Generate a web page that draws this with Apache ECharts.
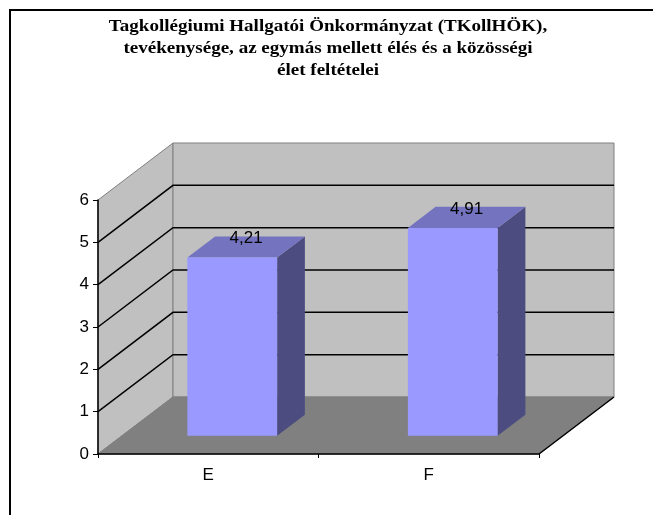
<!DOCTYPE html>
<html>
<head>
<meta charset="utf-8">
<script src="https://cdn.jsdelivr.net/npm/echarts@6/dist/echarts.min.js"></script>
<style>
  html, body { margin: 0; padding: 0; background: #fff; }
  #chart { width: 653px; height: 515px; }
</style>
</head>
<body>
<div id="chart"></div>
<script>
// Chart data
const titleLines = [
  'Tagkollégiumi Hallgatói Önkormányzat (TKollHÖK),',
  'tevékenysége, az egymás mellett élés és a közösségi',
  'élet feltételei'
];
const categories = ['E', 'F'];
const values = [4.21, 4.91];
const yTicks = [0, 1, 2, 3, 4, 5, 6];

// 3D look: pixel offset from the front plane to the back wall
const DEPTH = [75, -57];
// Bars occupy this slice of the depth
const BAR_Z0 = 0.32, BAR_Z1 = 0.69;
const BAR_WIDTH_RATIO = 0.407;

const COLORS = {
  wall: '#c0c0c0',
  wallEdge: '#808080',
  floor: '#808080',
  front: '#9999ff',
  top: '#7373bf',
  side: '#4c4c80'
};

const SANS = '"Liberation Sans", Arial, sans-serif';
const fmt = v => v.toFixed(2).replace('.', ',');

const chart = echarts.init(document.getElementById('chart'), null, { renderer: 'canvas' });

function renderWalls(params, api) {
  const cs = params.coordSys;
  const x0 = cs.x, x1 = cs.x + cs.width;
  const yb = cs.y + cs.height, yt = cs.y;
  const dx = DEPTH[0], dy = DEPTH[1];
  const children = [];
  // left wall
  children.push({
    type: 'polygon',
    shape: { points: [[x0, yb], [x0 + dx, yb + dy], [x0 + dx, yt + dy], [x0, yt]] },
    style: { fill: COLORS.wall, stroke: COLORS.wallEdge, lineWidth: 1 }
  });
  // back wall
  children.push({
    type: 'polygon',
    shape: { points: [[x0 + dx, yt + dy], [x1 + dx, yt + dy], [x1 + dx, yb + dy], [x0 + dx, yb + dy]] },
    style: { fill: COLORS.wall, stroke: COLORS.wallEdge, lineWidth: 1 }
  });
  // floor
  children.push({
    type: 'polygon',
    shape: { points: [[x0, yb], [x1, yb], [x1 + dx, yb + dy], [x0 + dx, yb + dy]] },
    style: { fill: COLORS.floor, stroke: COLORS.wallEdge, lineWidth: 1 }
  });
  // front-right edge of the floor
  children.push({
    type: 'line',
    shape: { x1: x1, y1: yb, x2: x1 + dx, y2: yb + dy },
    style: { stroke: '#000', lineWidth: 1.5 }
  });
  // gridlines across the left and back walls
  const vmax = yTicks[yTicks.length - 1];
  yTicks.forEach(v => {
    if (v <= 0 || v >= vmax) return;
    const y = api.coord([0, v])[1];
    children.push({
      type: 'polyline',
      shape: { points: [[x0, y], [x0 + dx, y + dy], [x1 + dx, y + dy]] },
      style: { stroke: '#000', lineWidth: 1.5, fill: null }
    });
  });
  return { type: 'group', children: children };
}

function renderBar(params, api) {
  const idx = api.value(0);
  const val = api.value(1);
  const base = api.coord([idx, 0]);
  const top = api.coord([idx, val]);
  const band = api.size([1, 0])[0];
  const w = band * BAR_WIDTH_RATIO;
  const ox = DEPTH[0] * BAR_Z0, oy = DEPTH[1] * BAR_Z0;
  const ddx = DEPTH[0] * (BAR_Z1 - BAR_Z0), ddy = DEPTH[1] * (BAR_Z1 - BAR_Z0);
  const xl = base[0] - w / 2 + ox, xr = xl + w;
  const yb = base[1] + oy, ytop = top[1] + oy;
  return {
    type: 'group',
    children: [
      {
        type: 'polygon',
        shape: { points: [[xr, yb], [xr + ddx, yb + ddy], [xr + ddx, ytop + ddy], [xr, ytop]] },
        style: { fill: COLORS.side }
      },
      {
        type: 'polygon',
        shape: { points: [[xl, ytop], [xr, ytop], [xr + ddx, ytop + ddy], [xl + ddx, ytop + ddy]] },
        style: { fill: COLORS.top }
      },
      {
        type: 'rect',
        shape: { x: xl, y: ytop, width: w, height: yb - ytop },
        style: { fill: COLORS.front }
      },
      {
        type: 'text',
        x: (xl + xr) / 2 + ddx / 2,
        y: ytop + ddy + 2,
        style: {
          text: fmt(val),
          fill: '#000',
          font: '17px ' + SANS,
          align: 'center',
          verticalAlign: 'middle'
        }
      }
    ]
  };
}

const option = {
  animation: false,
  backgroundColor: '#fff',
  graphic: [
    {
      type: 'rect',
      shape: { x: 10, y: 10, width: 700, height: 600 },
      style: { fill: null, stroke: '#000', lineWidth: 2 },
      silent: true
    },
    {
      // chart title, widened to the Excel-style spacing
      type: 'text',
      x: 328,
      y: 49,
      scaleX: 1.12,
      style: {
        text: titleLines.join('\n'),
        font: 'bold 17px "Liberation Serif", "Times New Roman", serif',
        lineHeight: 22,
        fill: '#000',
        align: 'center',
        verticalAlign: 'middle'
      },
      silent: true
    }
  ],
  grid: { left: 98, top: 200, width: 441, height: 254, containLabel: false },
  xAxis: {
    type: 'category',
    data: categories,
    boundaryGap: true,
    axisLine: { show: true, lineStyle: { color: '#000', width: 1.5 } },
    axisTick: { show: true, alignWithLabel: false, length: 4, lineStyle: { color: '#000' } },
    axisLabel: { color: '#000', fontSize: 17, fontFamily: SANS, margin: 13 },
    splitLine: { show: false },
    z: 5
  },
  yAxis: {
    type: 'value',
    min: yTicks[0],
    max: yTicks[yTicks.length - 1],
    interval: yTicks[1] - yTicks[0],
    axisLine: { show: true, lineStyle: { color: '#000', width: 1.5 } },
    axisTick: { show: true, length: 5, lineStyle: { color: '#000' } },
    axisLabel: { color: '#000', fontSize: 17, fontFamily: SANS, margin: 9 },
    splitLine: { show: false },
    z: 5
  },
  series: [
    {
      type: 'custom',
      name: 'walls',
      renderItem: renderWalls,
      data: [[0, 0]],
      z: -1,
      silent: true
    },
    {
      type: 'custom',
      name: 'values',
      renderItem: renderBar,
      data: values.map((v, i) => [i, v]),
      encode: { x: 0, y: 1 },
      z: 2
    }
  ]
};

chart.setOption(option);
</script>
</body>
</html>
